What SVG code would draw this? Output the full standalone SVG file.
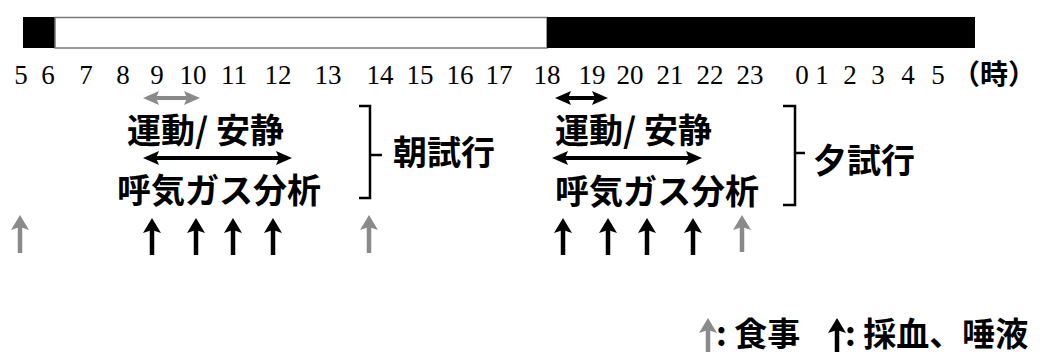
<svg xmlns="http://www.w3.org/2000/svg" width="1046" height="354" viewBox="0 0 1046 354">
<style>
.num{font-family:"Liberation Serif","Times New Roman",serif;font-size:27px;fill:#000;text-anchor:middle}
.jp{font-family:"Noto Sans CJK JP","Noto Sans",sans-serif;font-weight:bold;fill:#000}
.br{fill:none;stroke:#000;stroke-width:2.5}
.hb{stroke:#000;stroke-width:4}
.hg{stroke:#8a8a8a;stroke-width:4}
.vb{stroke:#000;stroke-width:4.5}
.vg{stroke:#8a8a8a;stroke-width:4.5}
</style>
<defs>
<marker id="mhb" markerUnits="userSpaceOnUse" markerWidth="16" markerHeight="16" viewBox="0 0 16 16" refX="8" refY="8" orient="auto-start-reverse"><path d="M0,1 L16,8 L0,15 L3,8Z" fill="#000"/></marker>
<marker id="mhg" markerUnits="userSpaceOnUse" markerWidth="16" markerHeight="16" viewBox="0 0 16 16" refX="8" refY="8" orient="auto-start-reverse"><path d="M0,1 L16,8 L0,15 L3,8Z" fill="#8a8a8a"/></marker>
<marker id="mvb" markerUnits="userSpaceOnUse" markerWidth="18" markerHeight="18" viewBox="0 0 18 18" refX="6" refY="9" orient="auto"><path d="M0,0 L15,9 L0,18 L3,9Z" fill="#000"/></marker>
<marker id="mvg" markerUnits="userSpaceOnUse" markerWidth="18" markerHeight="18" viewBox="0 0 18 18" refX="6" refY="9" orient="auto"><path d="M0,0 L15,9 L0,18 L3,9Z" fill="#8a8a8a"/></marker>
</defs>
<rect width="1046" height="354" fill="#fff"/>
<g id="lightbar">
<rect x="23" y="17" width="32" height="31" fill="#000"/>
<rect x="55" y="17.5" width="492" height="30.5" fill="#fff" stroke="#777" stroke-width="1.5"/>
<rect x="547" y="17" width="428" height="31" fill="#000"/>
</g>
<g id="hours">
<text class="num" x="21" y="84">5</text>
<text class="num" x="48" y="84">6</text>
<text class="num" x="86" y="84">7</text>
<text class="num" x="123" y="84">8</text>
<text class="num" x="157" y="84">9</text>
<text class="num" x="193" y="84">10</text>
<text class="num" x="234" y="84">11</text>
<text class="num" x="278" y="84">12</text>
<text class="num" x="328" y="84">13</text>
<text class="num" x="380" y="84">14</text>
<text class="num" x="420" y="84">15</text>
<text class="num" x="460" y="84">16</text>
<text class="num" x="499" y="84">17</text>
<text class="num" x="547" y="84">18</text>
<text class="num" x="592" y="84">19</text>
<text class="num" x="630" y="84">20</text>
<text class="num" x="670" y="84">21</text>
<text class="num" x="710" y="84">22</text>
<text class="num" x="750" y="84">23</text>
<text class="num" x="802" y="84">0</text>
<text class="num" x="822" y="84">1</text>
<text class="num" x="850" y="84">2</text>
<text class="num" x="878" y="84">3</text>
<text class="num" x="908" y="84">4</text>
<text class="num" x="938" y="84">5</text>
<text class="jp" x="952" y="85" font-size="28">（時）</text>
</g>
<g id="morning">
<text class="jp" x="127" y="143" font-size="34">運動/ 安静</text>
<text class="jp" x="117" y="203" font-size="34">呼気ガス分析</text>
<path class="br" d="M359,106 H370 V198 H359 M370,155 H382"/>
<text class="jp" x="393" y="165" font-size="34">朝試行</text>
</g>
<g id="evening">
<text class="jp" x="555" y="143" font-size="34">運動/ 安静</text>
<text class="jp" x="555" y="204" font-size="34">呼気ガス分析</text>
<path class="br" d="M783,106 H795 V205 H783 M795,153 H805"/>
<text class="jp" x="813" y="173" font-size="34">夕試行</text>
</g>
<g id="connectors">
<line class="hg" x1="151" y1="98" x2="192" y2="98" marker-start="url(#mhg)" marker-end="url(#mhg)"/>
<line class="hb" x1="563" y1="98" x2="600" y2="98" marker-start="url(#mhb)" marker-end="url(#mhb)"/>
<line class="hb" x1="151" y1="158" x2="284" y2="158" marker-start="url(#mhb)" marker-end="url(#mhb)"/>
<line class="hb" x1="560" y1="158" x2="694" y2="158" marker-start="url(#mhb)" marker-end="url(#mhb)"/>
</g>
<g id="meals">
<line class="vg" x1="20" y1="253" x2="20" y2="224" marker-end="url(#mvg)"/>
<line class="vg" x1="369" y1="253" x2="369" y2="224" marker-end="url(#mvg)"/>
<line class="vg" x1="742" y1="252" x2="742" y2="224" marker-end="url(#mvg)"/>
</g>
<g id="sampling">
<line class="vb" x1="152" y1="255" x2="152" y2="227" marker-end="url(#mvb)"/>
<line class="vb" x1="196" y1="255" x2="196" y2="227" marker-end="url(#mvb)"/>
<line class="vb" x1="233" y1="255" x2="233" y2="227" marker-end="url(#mvb)"/>
<line class="vb" x1="273" y1="255" x2="273" y2="227" marker-end="url(#mvb)"/>
<line class="vb" x1="563" y1="255" x2="563" y2="227" marker-end="url(#mvb)"/>
<line class="vb" x1="608" y1="255" x2="608" y2="227" marker-end="url(#mvb)"/>
<line class="vb" x1="647" y1="255" x2="647" y2="227" marker-end="url(#mvb)"/>
<line class="vb" x1="693" y1="255" x2="693" y2="227" marker-end="url(#mvb)"/>
</g>
<g id="legend">
<line class="vg" x1="708" y1="352" x2="708" y2="327" marker-end="url(#mvg)"/>
<text class="jp" x="716" y="346" font-size="33">: 食事</text>
<line class="vb" x1="837" y1="352" x2="837" y2="327" marker-end="url(#mvb)"/>
<text class="jp" x="845" y="346" font-size="33">: 採血、唾液</text>
</g>
</svg>
